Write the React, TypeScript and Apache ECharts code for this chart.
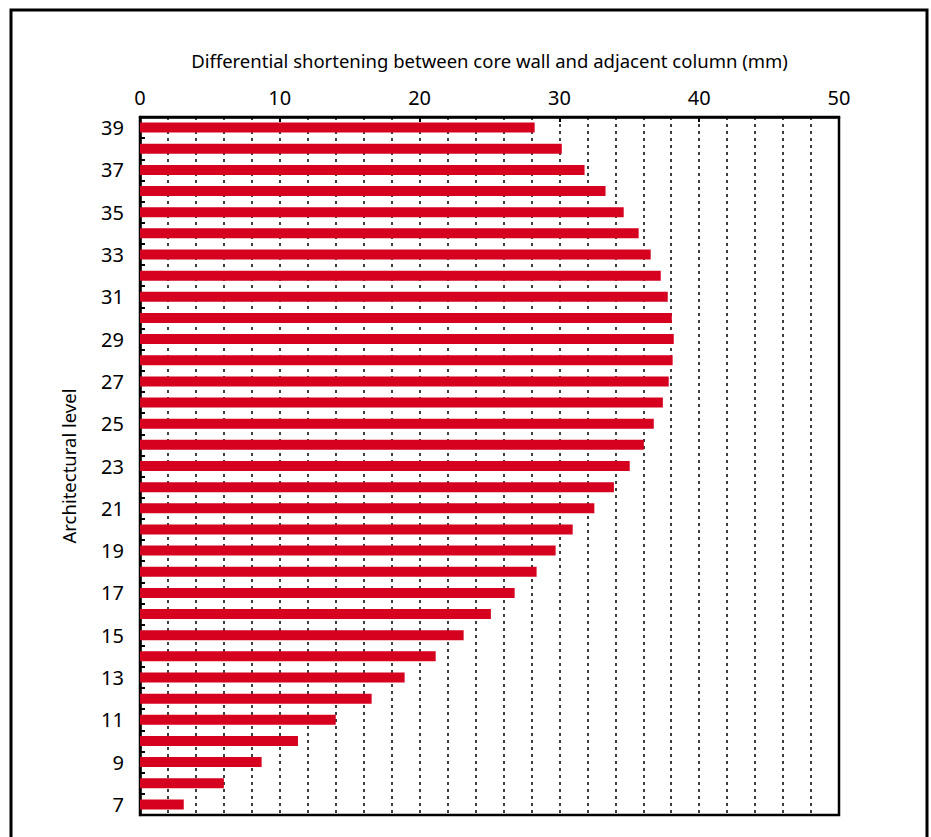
import React, { useEffect, useRef } from "react";
import * as echarts from "echarts";

const levels: string[] = [
  "7", "8", "9", "10", "11", "12", "13", "14", "15", "16", "17",
  "18", "19", "20", "21", "22", "23", "24", "25", "26", "27", "28",
  "29", "30", "31", "32", "33", "34", "35", "36", "37", "38", "39",
];
const shortening: number[] = [
  3.13, 6.0, 8.7, 11.3, 14.0, 16.57, 18.93, 21.15, 23.15, 25.1, 26.8,
  28.37, 29.73, 30.95, 32.5, 33.9, 35.03, 36.04, 36.75, 37.4, 37.82, 38.1,
  38.18, 38.04, 37.75, 37.25, 36.53, 35.67, 34.6, 33.3, 31.8, 30.17, 28.23,
];
const xTitle = "Differential shortening between core wall and adjacent column (mm)";
const yTitle = "Architectural level";

const FONT = "Noto Sans";

export default function App() {
  const ref = useRef<HTMLDivElement>(null);
  useEffect(() => {
    document.body.style.margin = "0";
    const chart = echarts.init(ref.current!, null, { renderer: "svg" });
    chart.setOption({
      animation: false,
      textStyle: { fontFamily: FONT },
      grid: {
        left: 140,
        right: 92,
        top: 117,
        bottom: 22,
        show: true,
        borderColor: "#000",
        borderWidth: 2.5,
        containLabel: false,
      },
      graphic: [
        {
          type: "rect",
          shape: { x: 11, y: 10, width: 916, height: 860 },
          style: { fill: "none", stroke: "#000", lineWidth: 3 },
          silent: true,
        },
      ],
      xAxis: [
        {
          type: "value",
          position: "top",
          min: 0,
          max: 50,
          interval: 10,
          name: xTitle,
          nameLocation: "middle",
          nameGap: 47,
          nameTextStyle: { fontSize: 18.5, color: "#000", fontFamily: FONT },
          axisLine: { show: true, lineStyle: { color: "#000", width: 2.5 } },
          axisTick: { show: true, inside: true, length: 5, lineStyle: { color: "#000", width: 2 } },
          axisLabel: { fontSize: 20, color: "#000", margin: 10, fontFamily: FONT },
          splitLine: { show: false },
        },
        {
          type: "value",
          position: "top",
          min: 0,
          max: 50,
          interval: 2,
          axisLine: { show: false },
          axisTick: { show: false },
          axisLabel: { show: false },
          splitLine: { show: true, lineStyle: { color: "#000", type: [3, 4], width: 1.5 } },
        },
      ],
      yAxis: {
        type: "category",
        data: levels,
        name: yTitle,
        nameLocation: "middle",
        nameRotate: 90,
        nameGap: 62,
        nameTextStyle: { fontSize: 18.5, color: "#000", fontFamily: FONT },
        axisLine: { show: true, lineStyle: { color: "#000", width: 2.5 } },
        axisTick: { show: true, inside: true, length: 5, interval: 0, lineStyle: { color: "#000", width: 2 } },
        axisLabel: { interval: 1, fontSize: 20, color: "#000", margin: 16, fontFamily: FONT },
        splitLine: { show: false },
      },
      series: [
        {
          type: "bar",
          xAxisIndex: 0,
          data: shortening,
          barWidth: 10,
          itemStyle: { color: "#d6001f" },
          z: 3,
        },
      ],
    });
    return () => chart.dispose();
  }, []);
  return <div ref={ref} style={{ width: 931, height: 837 }} />;
}
